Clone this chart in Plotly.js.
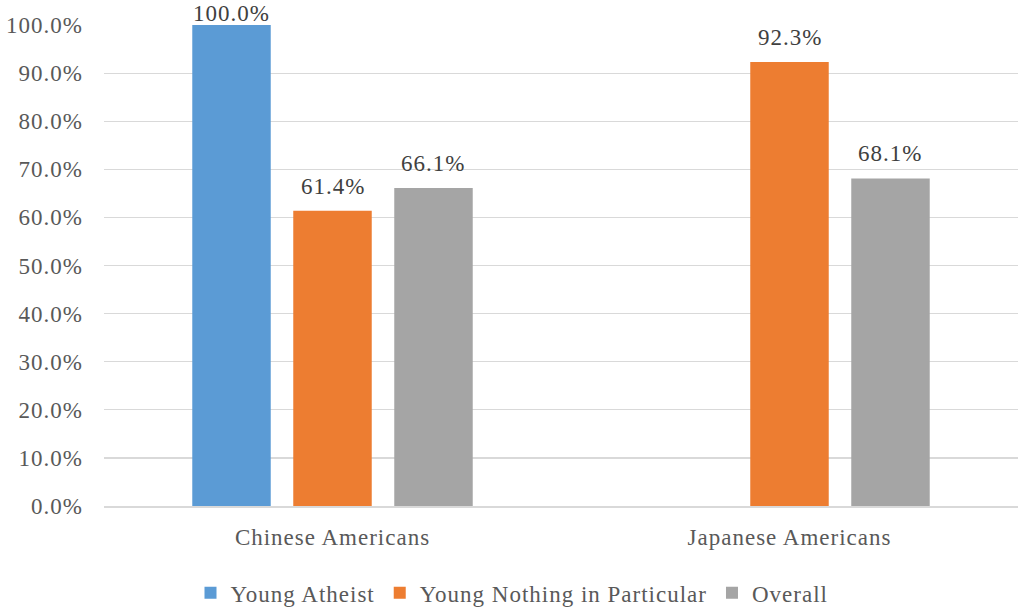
<!DOCTYPE html>
<html>
<head>
<meta charset="utf-8">
<script src="https://cdn.plot.ly/plotly-3.0.1.min.js"></script>
<style>html,body{margin:0;padding:0;background:#fff;}#chart{width:1024px;height:615px;}
svg text{letter-spacing:1px;}</style>
</head>
<body>
<div id="chart"></div>
<script>
const categories = ["Chinese Americans", "Japanese Americans"];
const seriesNames = ["Young Atheist", "Young Nothing in Particular", "Overall"];
const youngAtheist = [100.0, null];
const youngNothing = [61.4, 92.3];
const overall = [66.1, 68.1];
const colors = ["#5b9bd5", "#ed7d31", "#a5a5a5"];
const yTicks = [0, 10, 20, 30, 40, 50, 60, 70, 80, 90, 100];

const values = [youngAtheist, youngNothing, overall];
const font = "Liberation Serif";
const fs = 23;
const W = 1024, H = 615;
const margin = {l: 104, r: 6, t: 25, b: 109};
const bargap = 0.337, bargroupgap = 0.223;
const yRange = [0, 100];

const traces = values.map((v, i) => ({
  type: "bar",
  name: seriesNames[i],
  x: categories,
  y: v,
  marker: {color: colors[i]},
  hoverinfo: "skip"
}));

// data labels placed above each bar, using the same group geometry as the bars
const plotW = W - margin.l - margin.r;
const plotH = H - margin.t - margin.b;
const slot = plotW / categories.length * (1 - bargap) / values.length;
const annotations = [];
values.forEach((v, i) => {
  v.forEach((d, j) => {
    if (d == null) return;
    const ypix = margin.t + (yRange[1] - d) / (yRange[1] - yRange[0]) * plotH;
    const ys = Math.max(-3, Math.min(10, ypix - 28));
    annotations.push({
      x: categories[j], y: d, xref: "x", yref: "y",
      text: d.toFixed(1) + "%", showarrow: false,
      xanchor: "center", yanchor: "bottom",
      xshift: (i - (values.length - 1) / 2) * slot, yshift: ys,
      font: {family: font, size: fs, color: "#404040"}
    });
  });
});

const layout = {
  width: W, height: H,
  margin: Object.assign({autoexpand: false}, margin),
  paper_bgcolor: "#fff", plot_bgcolor: "#fff",
  barmode: "group",
  bargap: bargap,
  bargroupgap: bargroupgap,
  font: {family: font, size: fs, color: "#595959"},
  annotations: annotations,
  xaxis: {
    showgrid: false, showline: true, linecolor: "#d9d9d9", linewidth: 1.5,
    ticks: "", ticklabelstandoff: 10, automargin: false,
    tickfont: {family: font, size: fs, color: "#595959"}
  },
  yaxis: {
    range: yRange, tickvals: yTicks, ticktext: yTicks.map(t => t.toFixed(1) + "%"),
    showgrid: true, gridcolor: "#d9d9d9", gridwidth: 1.2, zeroline: false,
    showline: false, ticks: "", ticklabelstandoff: 20, automargin: false,
    tickfont: {family: font, size: fs, color: "#595959"}
  },
  showlegend: true,
  legend: {
    orientation: "h", xref: "container", x: 0.5, xanchor: "center",
    yref: "container", y: 0.036, yanchor: "middle",
    font: {family: font, size: fs, color: "#595959"},
    traceorder: "normal", itemwidth: 30
  }
};

Plotly.newPlot("chart", traces, layout, {displayModeBar: false, staticPlot: true});
</script>
</body>
</html>
